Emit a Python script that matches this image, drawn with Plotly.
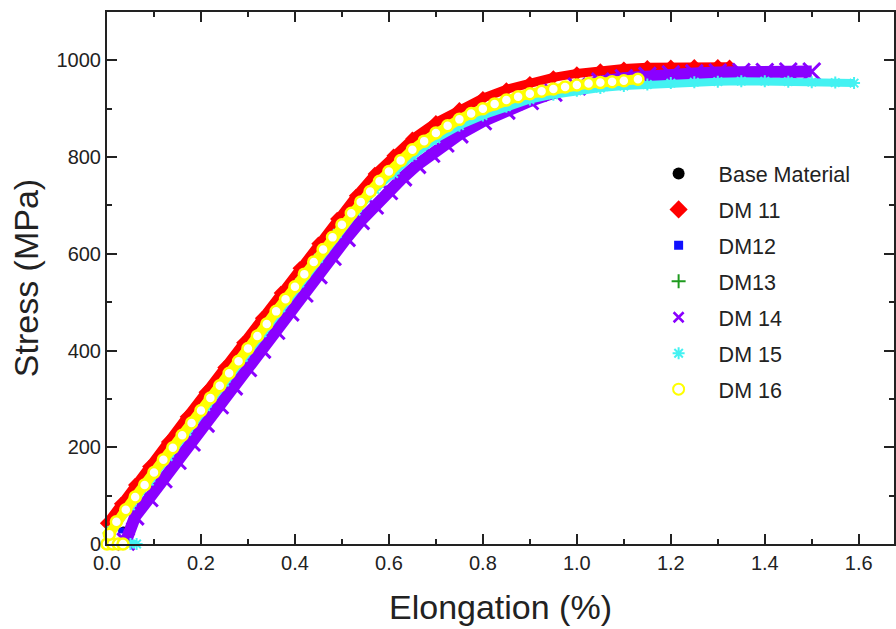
import plotly.graph_objects as go

# ---------------- data (elongation %, stress MPa) ----------------
series_names = ["Base Material", "DM 11", "DM12", "DM13", "DM 14", "DM 15", "DM 16"]

base_e = [0.035, 0.07, 0.11, 0.15, 0.19, 0.23, 0.27, 0.31, 0.35, 0.39, 0.43, 0.47, 0.51, 0.55,
          0.60, 0.65, 0.70, 0.75, 0.80, 0.85, 0.90, 0.95, 1.00]
base_s = [30, 75, 126, 177, 228, 279, 331, 382, 433, 484, 535, 587, 636, 680,
          730, 774, 812, 845, 872, 894, 912, 926, 937]

dm11_e = [0.00, 0.03, 0.06, 0.09, 0.13, 0.17, 0.21, 0.25, 0.29, 0.33, 0.37, 0.41, 0.45, 0.49,
          0.53, 0.57, 0.61, 0.65, 0.70, 0.75, 0.80, 0.85, 0.90, 0.95, 1.00, 1.05, 1.10, 1.15,
          1.20, 1.25, 1.30, 1.325]
dm11_s = [43, 83, 122, 160, 211, 263, 314, 365, 416, 467, 519, 570, 621, 672,
          720, 765, 803, 838, 872, 899, 922, 940, 953, 965, 973, 979, 983, 986,
          987, 988, 988, 987]

dm12_e = [0.03, 0.07, 0.11, 0.15, 0.19, 0.23, 0.27, 0.31, 0.35, 0.39, 0.43, 0.47, 0.51, 0.55,
          0.60, 0.65, 0.70, 0.75, 0.80, 0.85, 0.90, 0.95, 1.00, 1.05, 1.10, 1.15, 1.20]
dm12_s = [28, 80, 131, 182, 233, 284, 336, 387, 438, 489, 540, 592, 641, 685,
          735, 778, 817, 850, 879, 902, 920, 935, 947, 955, 961, 965, 968]

dm13_e = [0.00, 0.04, 0.08, 0.12, 0.16, 0.20, 0.24, 0.28, 0.32, 0.36, 0.40, 0.44, 0.48, 0.52,
          0.56, 0.60, 0.65, 0.70, 0.75, 0.80, 0.85, 0.90, 0.95, 1.00, 1.05, 1.10, 1.15, 1.19]
dm13_s = [23, 74, 125, 177, 228, 279, 330, 381, 433, 484, 535, 586, 637, 687,
          732, 773, 818, 853, 881, 903, 921, 934, 944, 952, 957, 961, 964, 966]

dm14_e = [0.04, 0.06, 0.09, 0.12, 0.15, 0.18, 0.21, 0.24, 0.27, 0.30, 0.33, 0.36, 0.39, 0.42,
          0.45, 0.48, 0.51, 0.54, 0.57, 0.60, 0.63, 0.66, 0.69, 0.72, 0.75, 0.80, 0.85, 0.90,
          0.95, 1.00, 1.05, 1.10, 1.15, 1.20, 1.25, 1.30, 1.35, 1.40, 1.45, 1.50]
dm14_s = [5, 57, 95, 134, 172, 210, 249, 287, 326, 364, 402, 441, 479, 518,
          556, 594, 633, 668, 700, 730, 758, 784, 807, 828, 847, 874, 896, 916,
          933, 946, 956, 963, 968, 971, 973, 975, 976, 976, 977, 977]

dm15_e = [0.05, 0.063, None, 0.01, 0.05, 0.09, 0.13, 0.17, 0.21, 0.25, 0.29, 0.33, 0.37, 0.41,
          0.45, 0.49, 0.53, 0.57, 0.61, 0.65, 0.70, 0.75, 0.80, 0.85, 0.90, 0.95, 1.00, 1.05,
          1.10, 1.15, 1.20, 1.25, 1.30, 1.35, 1.40, 1.45, 1.50, 1.55, 1.59]
dm15_s = [0, 0, None, 28, 79, 130, 181, 233, 284, 335, 386, 437, 489, 540,
          591, 642, 688, 733, 766, 803, 838, 865, 886, 904, 919, 929, 937, 943,
          947, 950, 953, 955, 956, 957, 957, 956, 955, 954, 953]

dm16_e = [0.000, 0.012, 0.024, 0.034, None, 0.005, 0.02, 0.04, 0.06, 0.08, 0.10, 0.12, 0.14,
          0.16, 0.18, 0.20, 0.22, 0.24, 0.26, 0.28, 0.30, 0.32, 0.34, 0.36, 0.38, 0.40, 0.42,
          0.44, 0.46, 0.48, 0.50, 0.52, 0.54, 0.56, 0.58, 0.60, 0.625, 0.65, 0.675, 0.70,
          0.725, 0.75, 0.775, 0.80, 0.825, 0.85, 0.875, 0.90, 0.925, 0.95, 0.975, 1.00,
          1.025, 1.05, 1.075, 1.10, 1.13]
dm16_s = [0, 0, 0, 0, None, 20, 46, 71, 97, 122, 148, 174, 199,
          225, 250, 276, 302, 327, 353, 378, 404, 430, 455, 481, 506, 532, 558,
          583, 609, 634, 660, 684, 707, 729, 750, 770, 793, 815, 833, 850,
          865, 878, 890, 900, 910, 918, 925, 931, 936, 941, 945, 949,
          952, 954, 956, 958, 961]

x_tick_vals = [0.0, 0.2, 0.4, 0.6, 0.8, 1.0, 1.2, 1.4, 1.6]
x_tick_text = ["0.0", "0.2", "0.4", "0.6", "0.8", "1.0", "1.2", "1.4", "1.6"]
y_tick_vals = [0, 200, 400, 600, 800, 1000]
y_tick_text = ["0", "200", "400", "600", "800", "1000"]

# ---------------- styles ----------------
FONT = "Liberation Sans, Arial, sans-serif"
RED, BLUE, GREEN, PURPLE, CYAN, YELLOW = "#FF0000", "#1010FF", "#1E9A1E", "#8A00FF", "#44F2F2", "#FFFF00"
fig = go.Figure()


def band(e, s, color, width, marker):
    fig.add_trace(go.Scatter(
        x=e, y=s, mode="lines+markers" if width else "markers",
        line=dict(color=color, width=width or 1),
        marker=marker, showlegend=False, cliponaxis=False, hoverinfo="skip",
        connectgaps=False))


band(base_e, base_s, "black", 0, dict(symbol="circle", size=6, color="black"))
band(dm11_e, dm11_s, RED, 9, dict(symbol="diamond", size=11, color=RED))
band(dm12_e, dm12_s, BLUE, 0, dict(symbol="square", size=6, color=BLUE))
band(dm13_e, dm13_s, GREEN, 0, dict(symbol="cross-thin", size=6, color=GREEN,
                                     line=dict(color=GREEN, width=2)))
band(dm14_e, dm14_s, PURPLE, 12, dict(symbol="x-thin", size=17, color=PURPLE,
                                       line=dict(color=PURPLE, width=3)))
band(dm15_e, dm15_s, CYAN, 8, dict(symbol="asterisk", size=10, color=CYAN,
                                    line=dict(color=CYAN, width=2)))
band(dm16_e, dm16_s, YELLOW, 10, dict(symbol="circle", size=11, color="white",
                                       line=dict(color=YELLOW, width=2.5)))

legend_markers = [
    dict(symbol="circle", size=12, color="black"),
    dict(symbol="diamond", size=14, color=RED),
    dict(symbol="square", size=9, color=BLUE),
    dict(symbol="cross-thin", size=10, color=GREEN, line=dict(color=GREEN, width=2)),
    dict(symbol="x-thin", size=10, color=PURPLE, line=dict(color=PURPLE, width=2.5)),
    dict(symbol="asterisk", size=10, color=CYAN, line=dict(color=CYAN, width=2)),
    dict(symbol="circle-open", size=11, color=YELLOW, line=dict(color=YELLOW, width=2)),
]
for i, (name, mk) in enumerate(zip(series_names, legend_markers)):
    fig.add_trace(go.Scatter(x=[None], y=[None], mode="markers", name=name, marker=mk,
                             legendgroup=f"g{i}", showlegend=True))

axis_common = dict(
    showline=True, linecolor="#222", linewidth=2, mirror="allticks",
    ticks="inside", ticklen=10, tickwidth=2, tickcolor="#222",
    showgrid=False, zeroline=False,
    tickfont=dict(family=FONT, size=20, color="#222"),
)

fig.update_layout(
    width=896, height=629,
    margin=dict(l=107, r=0, t=12, b=85),
    paper_bgcolor="white", plot_bgcolor="white",
    font=dict(family=FONT, color="#222"),
    xaxis=dict(range=[0, 1.675], tickvals=x_tick_vals, ticktext=x_tick_text,
               minor=dict(dtick=0.1, tick0=0, ticks="inside", ticklen=5, tickwidth=2, tickcolor="#222"),
               title=dict(text="Elongation (%)", font=dict(family=FONT, size=34, color="#222"), standoff=22),
               **axis_common),
    yaxis=dict(range=[0, 1100], tickvals=y_tick_vals, ticktext=y_tick_text,
               minor=dict(dtick=100, tick0=0, ticks="inside", ticklen=5, tickwidth=2, tickcolor="#222"),
               title=dict(text="Stress (MPa)", font=dict(family=FONT, size=34, color="#222"), standoff=8),
               **axis_common),
    legend=dict(x=0.6755, xanchor="left", y=0.735, yanchor="top",
                font=dict(family=FONT, size=21.5, color="#222"),
                itemwidth=70, traceorder="grouped", tracegroupgap=5,
                bgcolor="rgba(0,0,0,0)", borderwidth=0),
)

fig.write_html("out.html", config={"displayModeBar": False},
               post_script="document.body.style.margin='0';")
